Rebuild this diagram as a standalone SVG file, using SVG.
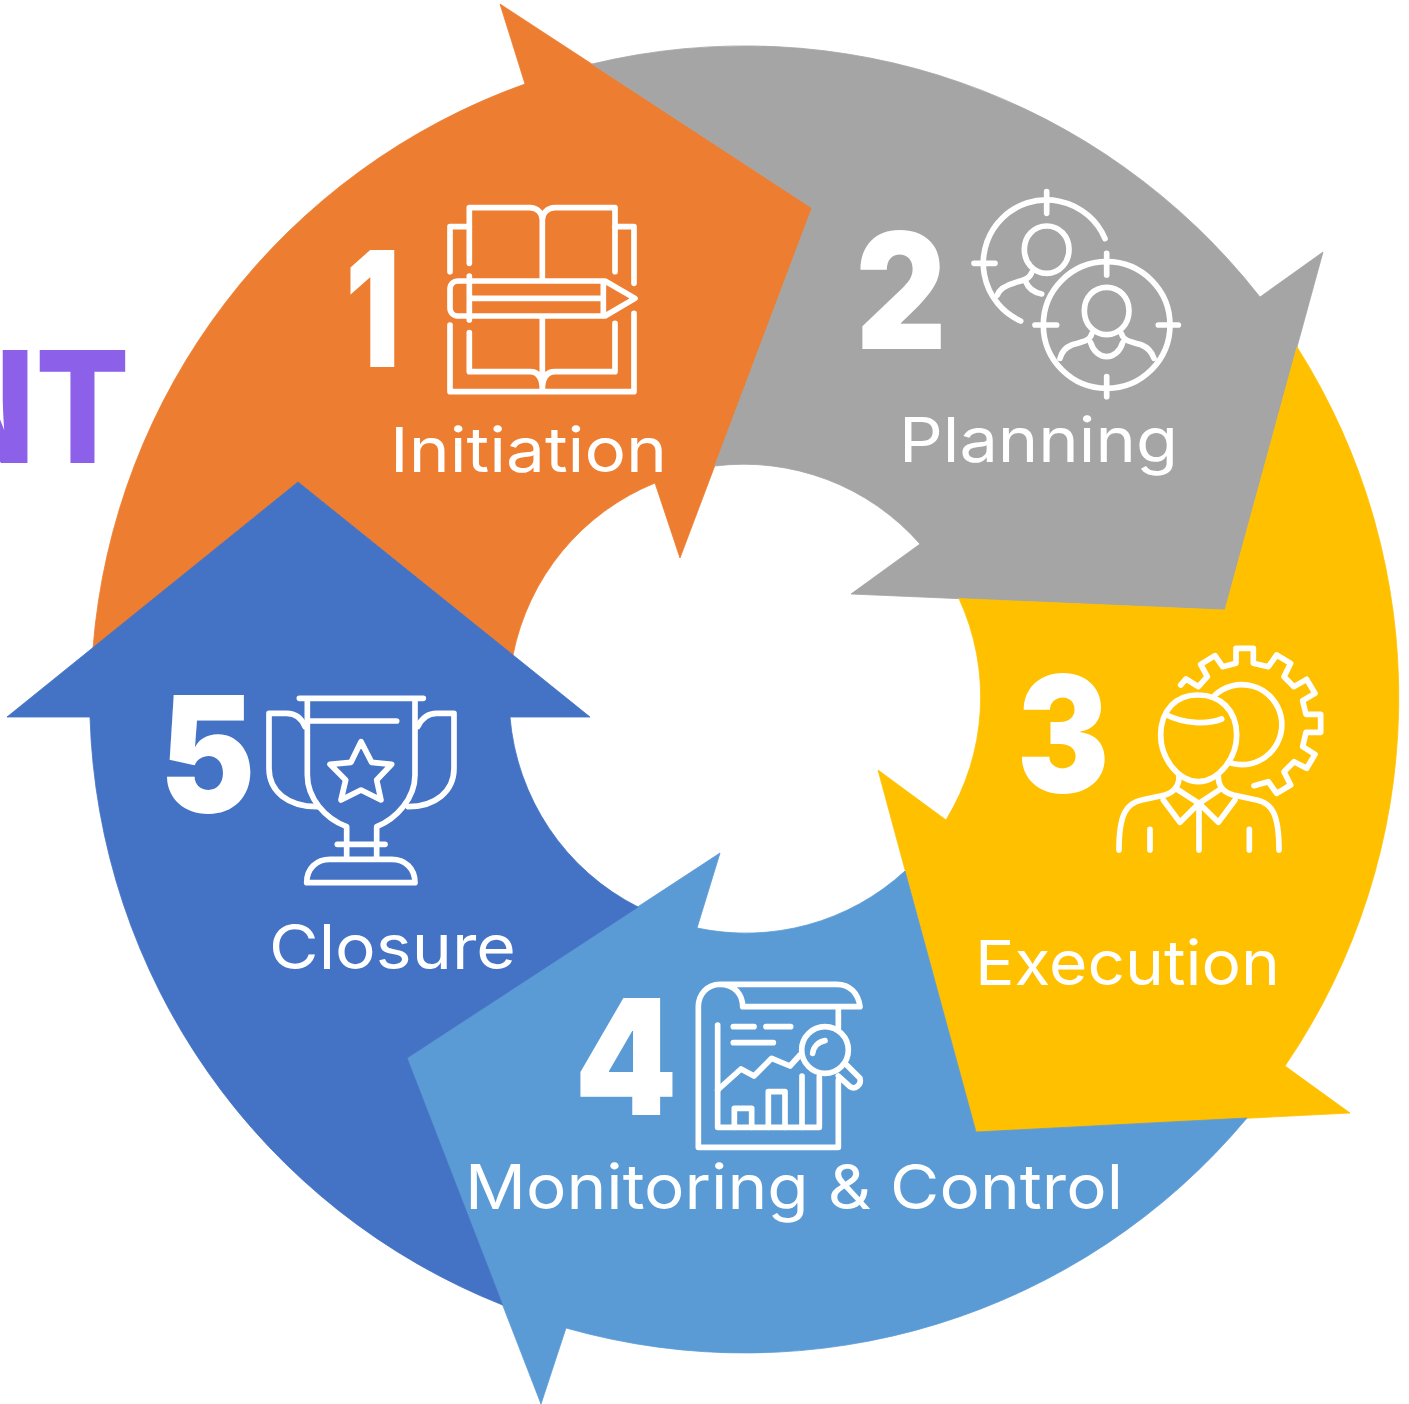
<svg xmlns="http://www.w3.org/2000/svg" width="1409" height="1404" viewBox="0 0 1409 1404">
<style>
text{font-family:"Inter","Open Sans","Liberation Sans",sans-serif;fill:#fff}
.num{font-size:161px;font-weight:900;text-anchor:middle}
.lab{font-size:62px;font-weight:400}
.ic{fill:none;stroke:#fff;stroke-width:17;stroke-linecap:round;stroke-linejoin:round}
.arrow{stroke-width:.8;stroke-linejoin:miter}
</style>
<rect width="1409" height="1404" fill="#fff"/>
<text id="title-fragment" transform="translate(129.6,463) scale(.9,1)" text-anchor="end" style="font-size:155px;font-weight:800;fill:#8C60E8">NT</text>
<g id="step-1">
<path class="arrow" fill="#ED7D31" stroke="#ED7D31" d="M525,84 L500,4 L812,208 L680,558 L655,483 A235,235 0 0 0 513,655 L298,482 L93,648 A654,654 0 0 1 525,84Z"/>
<text class="num" transform="translate(372.5,367) scale(.75,1)">1</text>
<text class="lab" x="390" y="472" textLength="277" lengthAdjust="spacingAndGlyphs">Initiation</text>
<g class="ic" transform="translate(430,190) scale(.33333)">
<path d="M118,220V53H300C322,53 337,70 337,90V265M555,245V53H375C352,53 337,70 337,90"/>
<path d="M60,245V110H118M612,280V110H555"/>
<path d="M525,273H85C70,273 60,283 60,298V353C60,368 70,378 85,378H525L615,325Z"/>
<path d="M118,258V390M118,325H520M520,275V376"/>
<path d="M118,428V545H300C322,545 337,560 337,600V385M555,400V545H375C352,545 337,560 337,600"/>
<path d="M60,405V605H612V370"/>
</g>
</g>
<g id="step-2">
<path class="arrow" fill="#A5A5A5" stroke="#A5A5A5" d="M592,64 A654,654 0 0 1 1260,297 L1323,252 L1225,610 L851,594 L920,544 A235,235 0 0 0 714.7,466 L812,208Z"/>
<text class="num" transform="translate(901,349) scale(.87,1)">2</text>
<text class="lab" x="899" y="462" textLength="279" lengthAdjust="spacingAndGlyphs">Planning</text>
<g class="ic" transform="translate(960,180) scale(.33333)">
<path d="M435,176A190,190 0 1 0 182,423"/>
<path d="M260,35V100M42,250H105"/>
<path d="M260,138C222,138 193,168 193,208C193,248 222,280 260,280C298,280 327,248 327,208C327,168 298,138 260,138Z"/>
<path d="M215,278C208,298 190,300 165,308C135,316 118,328 112,345M197,305C205,325 225,338 245,342"/>
<circle cx="440" cy="435" r="190"/>
<path d="M440,220V285M440,590V650M225,435H290M595,435H655"/>
<path d="M440,322C402,322 373,352 373,392C373,432 402,464 440,464C478,464 507,432 507,392C507,352 478,322 440,322Z"/>
<path d="M395,462C390,485 360,487 335,495C315,503 305,515 300,535M485,462C490,485 520,487 545,495C565,503 575,515 582,535M392,488C400,515 420,530 440,530C460,530 480,515 488,488"/>
</g>
</g>
<g id="step-3">
<path class="arrow" fill="#FFC000" stroke="#FFC000" d="M1297,347 A654,654 0 0 1 1285,1066 L1350,1113 L976,1132 L878,770 L946,820 A235,235 0 0 0 959,598.6 L1225,610Z"/>
<text class="num" transform="translate(1063,792) scale(.86,1)">3</text>
<text class="lab" x="975" y="985" textLength="305" lengthAdjust="spacingAndGlyphs">Execution</text>
<g class="ic" transform="translate(1100,635) scale(.33333)">
<path d="M242,150L258,132L295,155L322,125L302,88L345,62L368,95L408,85V40H460V85L505,95L530,60L572,85L552,125L582,155L620,133L645,175L608,197L618,238H662V292H618L608,335L645,358L620,400L582,380L552,410L572,450L530,475L505,440L462,452"/>
<path d="M345,180A120,120 0 1 1 395,385"/>
<path d="M295,180C230,178 182,225 182,300C182,370 235,440 295,440C355,440 410,370 410,300C410,225 360,180 295,180Z"/>
<path d="M200,240C250,265 320,270 365,252"/>
<path d="M237,425C237,450 225,470 195,480L125,495C80,505 57,535 57,645M355,425C355,450 365,470 400,480L470,495C515,505 537,535 537,645"/>
<path d="M230,462L297,505L362,462M190,495L240,562L297,505L355,562L405,495M297,505V645M150,583V645M448,583V645"/>
</g>
</g>
<g id="step-4">
<path class="arrow" fill="#5B9BD5" stroke="#5B9BD5" d="M1247,1118 A654,654 0 0 1 566,1328 L541,1404 L407,1058 L720,853 L697,928 A235,235 0 0 0 905,871 L976,1132Z"/>
<text class="num" transform="translate(626,1115) scale(.91,1)">4</text>
<text class="lab" x="465" y="1209" textLength="658" lengthAdjust="spacingAndGlyphs">Monitoring &amp; Control</text>
<g class="ic" transform="translate(680,970) scale(.33333)">
<path d="M188,110H540C535,70 510,43 470,43H120C80,43 55,75 55,110V532H475V330M120,43C165,43 188,75 188,110M475,110V175"/>
<path d="M113,165V472H418V320"/>
<path d="M160,170H222M258,170H332M160,218H280"/>
<path d="M113,360L183,297L222,318L275,265L330,288L360,255"/>
<path d="M163,472V415H215V472M265,472V365H315V472M366,472V318"/>
<circle cx="435" cy="240" r="70"/>
<path d="M398,250C400,230 415,215 435,212"/>
<path d="M500,285L540,325C545,345 525,360 510,350L475,318"/>
</g>
</g>
<g id="step-5">
<path class="arrow" fill="#4472C4" stroke="#4472C4" d="M502.6,1305 A654,654 0 0 1 90,717 L7,717 L298,482 L590,717 L510,717 A235,235 0 0 0 638,907 L407,1058Z"/>
<text class="num" transform="translate(207.5,812) scale(.89,1)">5</text>
<text class="lab" x="269" y="969" textLength="247" lengthAdjust="spacingAndGlyphs">Closure</text>
<g class="ic" transform="translate(255,685) scale(.33333)">
<path d="M133,40H505M157,40V270C157,340 210,400 275,425V515M480,40V270C480,340 425,400 365,425V515M160,108H425"/>
<path d="M150,125C140,100 120,85 95,85H42V250C42,320 100,365 185,365M488,125C500,100 520,85 545,85H597V250C597,320 540,365 460,365"/>
<path d="M318,170L350,232L410,238L365,285L378,345L318,315L258,345L272,285L225,238L288,232Z"/>
<path d="M247,478H390"/>
<path d="M155,593H480C480,550 450,523 410,523H225C185,523 155,550 155,593Z"/>
</g>
</g>
</svg>
